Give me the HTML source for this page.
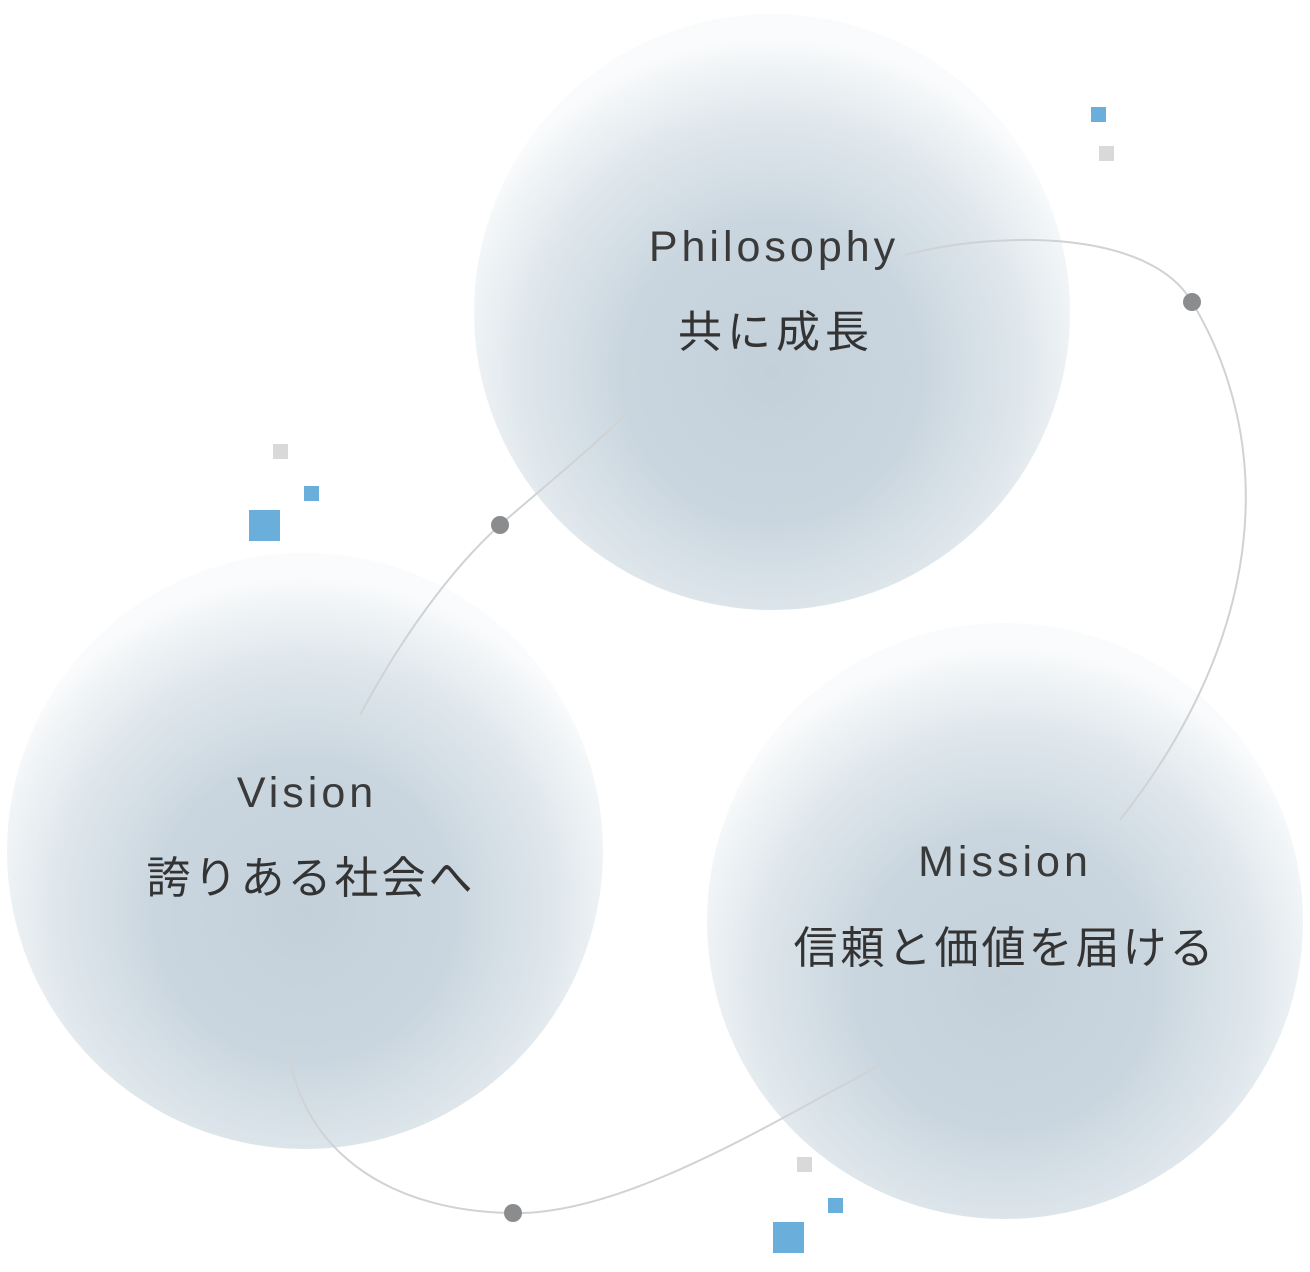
<!DOCTYPE html>
<html><head><meta charset="utf-8"><style>
html,body{margin:0;padding:0;background:#fff;}
svg{display:block}
text{font-family:"Liberation Sans","Noto Sans CJK JP",sans-serif;fill:#333}
.l{fill:#3a3a3a}
</style></head><body>
<svg width="1310" height="1272" viewBox="0 0 1310 1272" xmlns="http://www.w3.org/2000/svg">
<defs>
<radialGradient id="g" cx="0.5" cy="0.6" r="0.56">
<stop offset="0" stop-color="#c3d0da"/>
<stop offset="0.45" stop-color="#cad6df"/>
<stop offset="0.75" stop-color="#dfe7ec"/>
<stop offset="0.92" stop-color="#f0f4f6"/>
<stop offset="1" stop-color="#fafbfc"/>
</radialGradient>
</defs>
<circle cx="772" cy="312" r="298" fill="url(#g)"/>
<circle cx="305" cy="851" r="298" fill="url(#g)"/>
<circle cx="1005" cy="921" r="298" fill="url(#g)"/>
<g fill="none" stroke="#cfd3d6" stroke-width="2">
<path d="M905,255 C1000,230 1150,230 1192,302 C1275,440 1270,630 1120,820"/>
<path d="M880,1065 C760,1130 620,1215 513,1213 C400,1212 305,1160 288,1050"/>
<path d="M360,715 C400,640 450,570 500,525 C540,490 590,450 630,410"/>
</g>
<g fill="#8a8c8e">
<circle cx="1192" cy="302" r="9"/>
<circle cx="500" cy="525" r="9"/>
<circle cx="513" cy="1213" r="9"/>
</g>
<g fill="#6aaedc">
<rect x="1091" y="107" width="15" height="15"/>
<rect x="304" y="486" width="15" height="15"/>
<rect x="249" y="510" width="31" height="31"/>
<rect x="828" y="1198" width="15" height="15"/>
<rect x="773" y="1222" width="31" height="31"/>
</g>
<g fill="#d9d9d9">
<rect x="1099" y="146" width="15" height="15"/>
<rect x="273" y="444" width="15" height="15"/>
<rect x="797" y="1157" width="15" height="15"/>
</g>
<g text-anchor="middle">
<text class="l" x="774" y="261" font-size="43" letter-spacing="4">Philosophy</text>
<text x="776" y="347" font-size="44" letter-spacing="5">共に成長</text>
<text class="l" x="307" y="807" font-size="43" letter-spacing="4">Vision</text>
<text x="311" y="893" font-size="44" letter-spacing="3">誇りある社会へ</text>
<text class="l" x="1005" y="876" font-size="43" letter-spacing="4">Mission</text>
<text x="1005" y="963" font-size="44" letter-spacing="3">信頼と価値を届ける</text>
</g>
</svg>
</body></html>
